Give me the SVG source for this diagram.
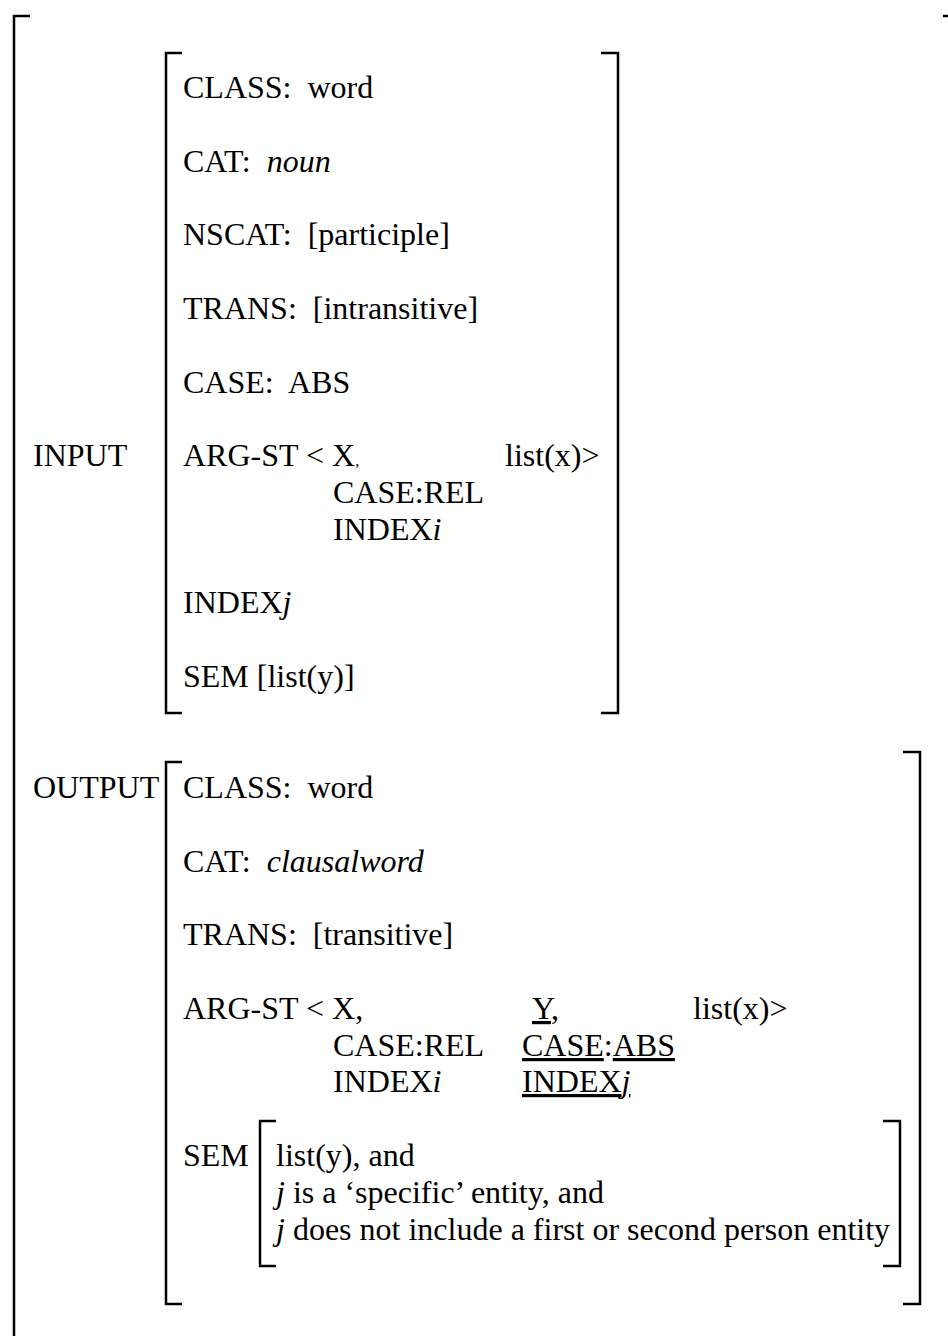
<svg xmlns="http://www.w3.org/2000/svg" width="948" height="1336" viewBox="0 0 948 1336">
<style>
text{font-family:"Liberation Serif","Times New Roman",serif;font-size:32px;fill:#000;white-space:pre}
.i{font-style:italic}
.u{text-decoration:underline}
.br{fill:none;stroke:#000;stroke-width:2.5}
</style>
<rect width="948" height="1336" fill="#fff"/>
<g id="outer">
<path class="br" d="M30,16 H14 V1336"/>
<path class="br" d="M943,16 H948"/>
</g>
<g id="input">
<text x="33" y="466">INPUT</text>
<path class="br" d="M182,53 H166 V713 H182"/>
<path class="br" d="M601,53 H618 V713 H601"/>
<text x="183" y="98">CLASS:  word</text>
<text x="183" y="172">CAT:  <tspan class="i">noun</tspan></text>
<text x="183" y="245">NSCAT:  [participle]</text>
<text x="183" y="319">TRANS:  [intransitive]</text>
<text x="183" y="393">CASE:  ABS</text>
<text x="183" y="466">ARG-ST &lt; X<tspan class="u" font-size="16">,</tspan></text>
<text x="505" y="466">list(x)&gt;</text>
<text x="333" y="503">CASE:REL</text>
<text x="333" y="540">INDEX<tspan class="i">i</tspan></text>
<text x="183" y="613">INDEX<tspan class="i">j</tspan></text>
<text x="183" y="687">SEM [list(y)]</text>
</g>
<g id="output">
<text x="33" y="798">OUTPUT</text>
<path class="br" d="M182,762 H166 V1304 H182"/>
<path class="br" d="M903,752 H920 V1304 H903"/>
<text x="183" y="798">CLASS:  word</text>
<text x="183" y="872">CAT:  <tspan class="i">clausalword</tspan></text>
<text x="183" y="945">TRANS:  [transitive]</text>
<text x="183" y="1019">ARG-ST &lt; X,</text>
<text x="532" y="1019"><tspan class="u">Y</tspan>,</text>
<text x="693" y="1019">list(x)&gt;</text>
<text x="333" y="1056">CASE:REL</text>
<text x="333" y="1092">INDEX<tspan class="i">i</tspan></text>
<text x="522" y="1056"><tspan class="u">CASE</tspan>:<tspan class="u">ABS</tspan></text>
<text x="522" y="1092" class="u">INDEX<tspan class="i">j</tspan></text>
</g>
<g id="sem">
<text x="183" y="1166">SEM</text>
<path class="br" d="M276,1121 H260 V1266 H276"/>
<path class="br" d="M883,1121 H900 V1266 H883"/>
<text x="276" y="1166">list(y), and</text>
<text x="276" y="1203"><tspan class="i">j</tspan> is a ‘specific’ entity, and</text>
<text x="276" y="1240"><tspan class="i">j</tspan> does not include a first or second person entity</text>
</g>
</svg>
